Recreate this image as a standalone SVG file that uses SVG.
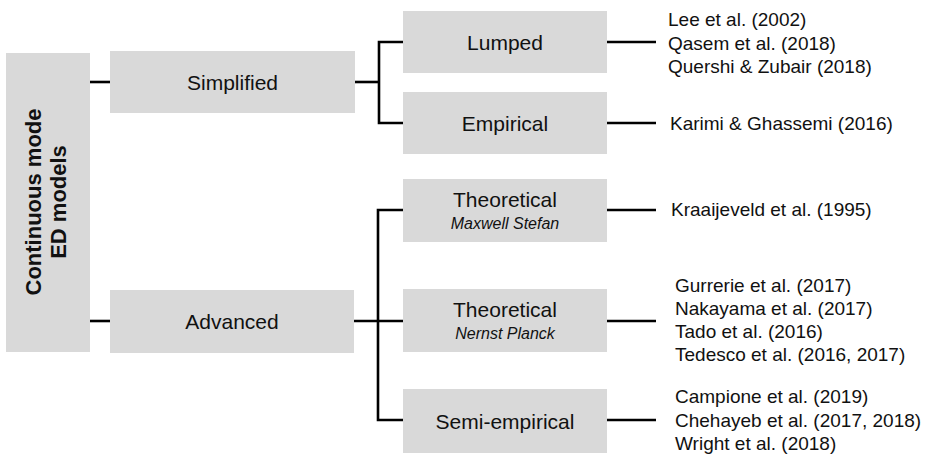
<svg xmlns="http://www.w3.org/2000/svg" width="929" height="455" viewBox="0 0 929 455">
  <style>
    .box { fill: #d9d9d9; }
    .wire { fill: none; stroke: #000; stroke-width: 2.6; }
    text { font-family: "Liberation Sans", Arial, sans-serif; fill: #111; }
    .root { font-size: 22px; font-weight: bold; text-anchor: middle; }
    .lbl { font-size: 21px; text-anchor: middle; }
    .sub { font-size: 16px; font-style: italic; text-anchor: middle; }
    .ref { font-size: 19px; }
  </style>
  <rect width="929" height="455" fill="#fff"/>

  <!-- connectors -->
  <g id="connectors">
    <path class="wire" d="M90 82 H110"/>
    <path class="wire" d="M90 321 H110"/>
    <path class="wire" d="M355 82 H379"/>
    <path class="wire" d="M403 42 H379 V123 H403"/>
    <path class="wire" d="M354 321 H403"/>
    <path class="wire" d="M403 210 H378 V420 H403"/>
    <path class="wire" d="M607 42 H656"/>
    <path class="wire" d="M607 123 H656"/>
    <path class="wire" d="M607 210 H656"/>
    <path class="wire" d="M607 321 H656"/>
    <path class="wire" d="M607 420 H656"/>
  </g>

  <g id="root">
    <rect class="box" x="6" y="53" width="84" height="299"/>
    <text class="root" transform="translate(41 202) rotate(-90)">Continuous mode</text>
    <text class="root" transform="translate(66 202) rotate(-90)">ED models</text>
  </g>

  <g id="simplified">
    <rect class="box" x="110" y="51" width="245" height="62"/>
    <text class="lbl" x="232.5" y="89.5">Simplified</text>
  </g>

  <g id="advanced">
    <rect class="box" x="110" y="290" width="244" height="63"/>
    <text class="lbl" x="232" y="329">Advanced</text>
  </g>

  <g id="lumped">
    <rect class="box" x="403" y="11" width="204" height="62"/>
    <text class="lbl" x="505" y="49.5">Lumped</text>
  </g>

  <g id="empirical">
    <rect class="box" x="403" y="92" width="204" height="62"/>
    <text class="lbl" x="505" y="130.5">Empirical</text>
  </g>

  <g id="theoretical-ms">
    <rect class="box" x="403" y="179" width="204" height="63"/>
    <text class="lbl" x="505" y="207">Theoretical</text>
    <text class="sub" x="505" y="229">Maxwell Stefan</text>
  </g>

  <g id="theoretical-np">
    <rect class="box" x="403" y="289" width="204" height="63"/>
    <text class="lbl" x="505" y="317">Theoretical</text>
    <text class="sub" x="505" y="339">Nernst Planck</text>
  </g>

  <g id="semi-empirical">
    <rect class="box" x="403" y="389" width="204" height="64"/>
    <text class="lbl" x="505" y="428.5">Semi-empirical</text>
  </g>

  <g id="refs-lumped">
    <text class="ref" x="668" y="26">Lee et al. (2002)</text>
    <text class="ref" x="668" y="49.5">Qasem et al. (2018)</text>
    <text class="ref" x="668" y="73">Quershi &amp; Zubair (2018)</text>
  </g>

  <g id="refs-empirical">
    <text class="ref" x="670" y="130">Karimi &amp; Ghassemi (2016)</text>
  </g>

  <g id="refs-ms">
    <text class="ref" x="671" y="216">Kraaijeveld et al. (1995)</text>
  </g>

  <g id="refs-np">
    <text class="ref" x="675" y="292">Gurrerie et al. (2017)</text>
    <text class="ref" x="675" y="315">Nakayama et al. (2017)</text>
    <text class="ref" x="675" y="338">Tado et al. (2016)</text>
    <text class="ref" x="675" y="361">Tedesco et al. (2016, 2017)</text>
  </g>

  <g id="refs-semi">
    <text class="ref" x="675" y="403">Campione et al. (2019)</text>
    <text class="ref" x="675" y="427">Chehayeb et al. (2017, 2018)</text>
    <text class="ref" x="675" y="450">Wright et al. (2018)</text>
  </g>
</svg>
